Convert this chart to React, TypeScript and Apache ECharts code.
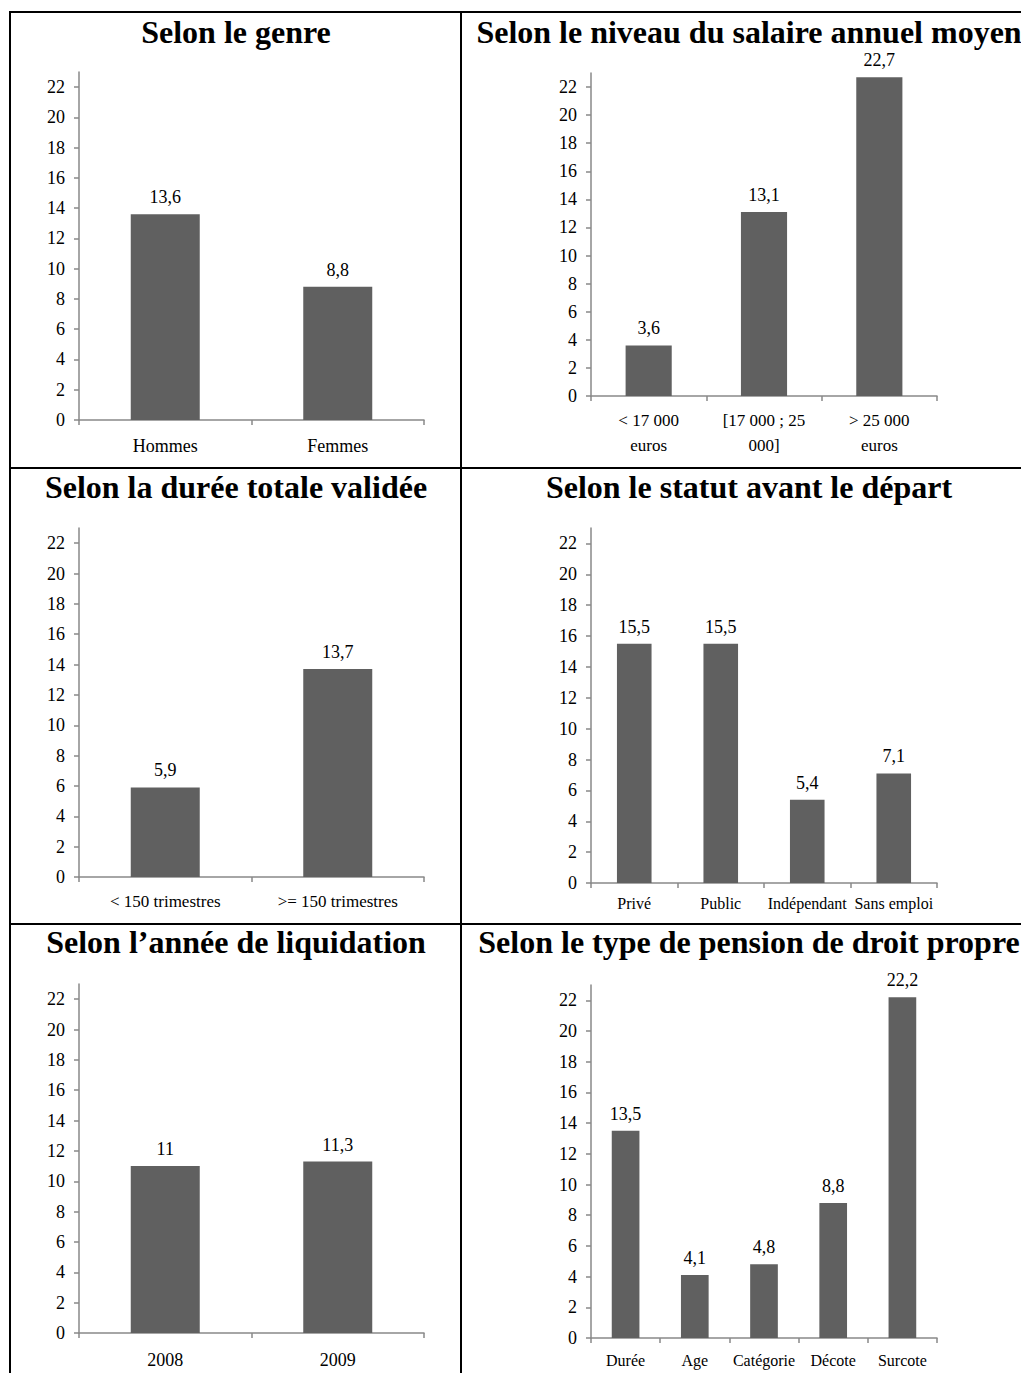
import React, { useEffect, useRef } from 'react';
import * as echarts from 'echarts';

// ---- Data ----
const yTicks = [0, 2, 4, 6, 8, 10, 12, 14, 16, 18, 20, 22];
const yMax = 23;

const titles = [
  'Selon le genre',
  'Selon le niveau du salaire annuel moyen',
  'Selon la durée totale validée',
  'Selon le statut avant le départ',
  'Selon l’année de liquidation',
  'Selon le type de pension de droit propre',
];

const genreCats = ['Hommes', 'Femmes'];
const genreVals = [13.6, 8.8];

const salaireCats = ['< 17 000\neuros', '[17 000 ; 25\n000]', '> 25 000\neuros'];
const salaireVals = [3.6, 13.1, 22.7];

const dureeCats = ['< 150 trimestres', '>= 150 trimestres'];
const dureeVals = [5.9, 13.7];

const statutCats = ['Privé', 'Public', 'Indépendant', 'Sans emploi'];
const statutVals = [15.5, 15.5, 5.4, 7.1];

const anneeCats = ['2008', '2009'];
const anneeVals = [11, 11.3];

const pensionCats = ['Durée', 'Age', 'Catégorie', 'Décote', 'Surcote'];
const pensionVals = [13.5, 4.1, 4.8, 8.8, 22.2];

// ---- Layout (positions / styles) ----
const FONT = '"Liberation Serif", "Times New Roman", serif';
const AXIS_COLOR = '#898989';
const BAR_COLOR = '#606060';

const panels = [
  { cats: genreCats, vals: genreVals, grid: { left: 79, top: 72, width: 345, height: 348 }, tx: 236, ty: 32, xFont: 18, xMargin: 16, lh: 20 },
  { cats: salaireCats, vals: salaireVals, grid: { left: 591, top: 73, width: 346, height: 323 }, tx: 749, ty: 32, xFont: 17, xMargin: 12, lh: 25 },
  { cats: dureeCats, vals: dureeVals, grid: { left: 79, top: 528, width: 345, height: 349 }, tx: 236, ty: 487, xFont: 17, xMargin: 14, lh: 20 },
  { cats: statutCats, vals: statutVals, grid: { left: 591, top: 528, width: 346, height: 355 }, tx: 749, ty: 487, xFont: 16, xMargin: 11, lh: 18 },
  { cats: anneeCats, vals: anneeVals, grid: { left: 79, top: 984, width: 345, height: 349 }, tx: 236, ty: 942, xFont: 18, xMargin: 17, lh: 20 },
  { cats: pensionCats, vals: pensionVals, grid: { left: 591, top: 985, width: 346, height: 353 }, tx: 749, ty: 942, xFont: 16, xMargin: 13, lh: 18 },
];

const tableLines = [
  { x1: 10, y1: 12, x2: 1021, y2: 12 },
  { x1: 10, y1: 468, x2: 1021, y2: 468 },
  { x1: 10, y1: 924, x2: 1021, y2: 924 },
  { x1: 10, y1: 11, x2: 10, y2: 1373 },
  { x1: 461, y1: 11, x2: 461, y2: 1373 },
];

const fmt = (v: number) => String(v).replace('.', ',');

export default function App() {
  const ref = useRef<HTMLDivElement>(null);

  useEffect(() => {
    if (!ref.current) return;
    const chart = echarts.init(ref.current, null, { renderer: 'svg' });

    const option: any = {
      animation: false,
      backgroundColor: '#ffffff',
      textStyle: { fontFamily: FONT },
      grid: panels.map((p) => ({ ...p.grid, containLabel: false })),
      xAxis: panels.map((p, i) => ({
        type: 'category',
        gridIndex: i,
        data: p.cats,
        axisLine: { show: true, lineStyle: { color: AXIS_COLOR, width: 1.5 } },
        axisTick: { show: true, length: 5, alignWithLabel: false, lineStyle: { color: AXIS_COLOR, width: 1.5 } },
        axisLabel: {
          interval: 0,
          color: '#000',
          fontFamily: FONT,
          fontSize: p.xFont,
          margin: p.xMargin,
          lineHeight: p.lh,
        },
        splitLine: { show: false },
      })),
      yAxis: panels.map((p, i) => ({
        type: 'value',
        gridIndex: i,
        min: 0,
        max: yMax,
        interval: 2,
        axisLine: { show: true, lineStyle: { color: AXIS_COLOR, width: 1.5 } },
        axisTick: { show: true, length: 5, customValues: yTicks, lineStyle: { color: AXIS_COLOR, width: 1.5 } },
        axisLabel: {
          customValues: yTicks,
          color: '#000',
          fontFamily: FONT,
          fontSize: 18,
          margin: 14,
          formatter: (v: number) => (v > 22 ? '' : String(v)),
        },
        splitLine: { show: false },
      })),
      series: panels.map((p, i) => ({
        type: 'bar',
        xAxisIndex: i,
        yAxisIndex: i,
        data: p.vals,
        barWidth: '40%',
        itemStyle: { color: BAR_COLOR },
        label: {
          show: true,
          position: 'top',
          distance: 8,
          color: '#000',
          fontFamily: FONT,
          fontSize: 18,
          formatter: (prm: any) => fmt(prm.value),
        },
      })),
      graphic: [
        ...tableLines.map((l) => ({
          type: 'line',
          shape: l,
          style: { stroke: '#000', lineWidth: 2 },
          silent: true,
        })),
        ...panels.map((p, i) => ({
          type: 'text',
          x: p.tx,
          y: p.ty,
          style: {
            text: titles[i],
            font: `bold 32px ${FONT}`,
            fill: '#000',
            textAlign: 'center',
            textVerticalAlign: 'middle',
            align: 'center',
            verticalAlign: 'middle',
          },
          silent: true,
        })),
      ],
    };

    chart.setOption(option);
    return () => chart.dispose();
  }, []);

  return (
    <div
      ref={ref}
      style={{ position: 'absolute', left: 0, top: 0, width: 1021, height: 1373, background: '#fff' }}
    />
  );
}
